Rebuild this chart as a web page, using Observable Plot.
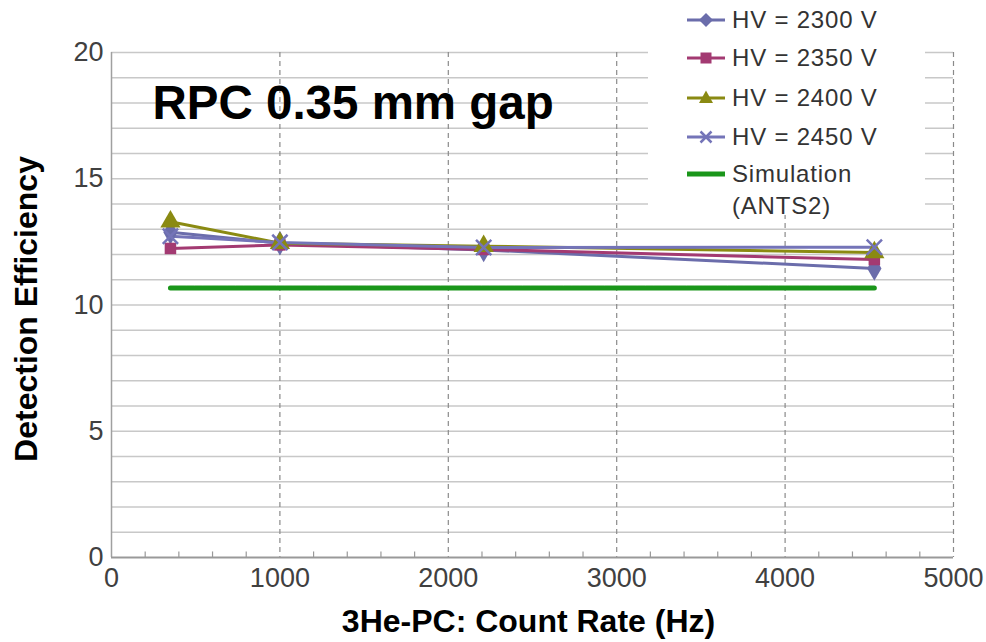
<!DOCTYPE html>
<html>
<head>
<meta charset="utf-8">
<script src="https://cdn.jsdelivr.net/npm/d3@7"></script>
<script src="https://cdn.jsdelivr.net/npm/@observablehq/plot@0.6"></script>
<style>
  html, body { margin: 0; padding: 0; background: #fff; }
  #wrap { position: relative; width: 986px; height: 642px; font-family: "Liberation Sans", Arial, sans-serif; }
  #legend { position: absolute; left: 648px; top: 0px; width: 277px; height: 215px; background: #fff; }
  .row { position: absolute; left: 39px; height: 38px; display: flex; align-items: center; font-size: 24px; letter-spacing: 0.8px; color: #333; }
  .row svg { margin-right: 7px; }
</style>
</head>
<body>
<div id="wrap"><div id="legend"></div></div>
<script>
// ---- data ----
const countRate = [350, 1000, 2210, 4530];
const seriesNames = ["HV = 2300 V", "HV = 2350 V", "HV = 2400 V", "HV = 2450 V"];
const hv2300 = [12.88, 12.45, 12.18, 11.45];
const hv2350 = [12.24, 12.38, 12.20, 11.80];
const hv2400 = [13.30, 12.45, 12.33, 12.08];
const hv2450 = [12.72, 12.48, 12.28, 12.29];
const simName = "Simulation (ANTS2)";
const simRate = [350, 4530];
const simEff = [10.67, 10.67];
const xTicks = [0, 1000, 2000, 3000, 4000, 5000];
const xMinorTicks = [200,400,600,800,1200,1400,1600,1800,2200,2400,2600,2800,3200,3400,3600,3800,4200,4400,4600,4800];
const yTicks = [0, 5, 10, 15, 20];
const yGrid = [1,2,3,4,5,6,7,8,9,10,11,12,13,14,15,16,17,18,19,20];
const xGrid = [1000, 2000, 3000, 4000, 5000];

const colors = ["#6b6dab", "#a33a72", "#8a8a12", "#7474b8"];
const symbols = ["diamond", "square", "triangle", "times"];
const radii = [7.5, 6.5, 7.5, 7];
const simColor = "#1a961a";

const allSeries = [hv2300, hv2350, hv2400, hv2450];
const rows = [];
allSeries.forEach((vals, i) => vals.forEach((v, j) => rows.push({series: seriesNames[i], i, x: countRate[j], y: v})));
const sim = simRate.map((x, j) => ({x, y: simEff[j]}));

const marks = [
  Plot.gridY(yGrid, {stroke: "#c8c8c8", strokeOpacity: 1, strokeWidth: 1.5}),
  Plot.gridX(xGrid, {stroke: "#8a8a8a", strokeOpacity: 1, strokeWidth: 1.2, strokeDasharray: "5,4"}),
  Plot.ruleX([0], {stroke: "#a0a0a0", strokeWidth: 1.5}),
  Plot.ruleY([0], {stroke: "#999", strokeWidth: 2}),
  Plot.ruleX(xMinorTicks, {y1: 0, y2: 0.22, stroke: "#999", strokeWidth: 1.2}),
  Plot.axisX({ticks: xTicks, tickFormat: d3.format("d"), tickSize: 0, tickPadding: 10, fontSize: 27, color: "#404040", label: null}),
  Plot.axisY({ticks: yTicks, tickFormat: d3.format("d"), tickSize: 0, tickPadding: 8, fontSize: 27, color: "#404040", label: null}),
  Plot.line(sim, {x: "x", y: "y", stroke: simColor, strokeWidth: 5, strokeDasharray: "7,1.2"})
];
allSeries.forEach((vals, i) => {
  const d = rows.filter(r => r.i === i);
  marks.push(Plot.line(d, {x: "x", y: "y", stroke: colors[i], strokeWidth: 3}));
});
allSeries.forEach((vals, i) => {
  const d = rows.filter(r => r.i === i);
  if (symbols[i] === "times") {
    marks.push(Plot.dot(d, {x: "x", y: "y", symbol: "times", r: radii[i], stroke: colors[i], strokeWidth: 2.5}));
  } else {
    marks.push(Plot.dot(d, {x: "x", y: "y", symbol: symbols[i], r: radii[i], fill: colors[i], stroke: "none"}));
  }
});
marks.push(
  Plot.text(["RPC 0.35 mm gap"], {frameAnchor: "top-left", dx: 41, dy: 33, lineAnchor: "top", textAnchor: "start", fontSize: 47.5, fontWeight: "bold", fill: "#000"}),
  Plot.text(["Detection Efficiency"], {frameAnchor: "left", textAnchor: "middle", dx: -85, dy: 4, rotate: -90, fontSize: 32, fontWeight: "bold", fill: "#000"}),
  Plot.text(["3He-PC: Count Rate (Hz)"], {frameAnchor: "bottom", textAnchor: "middle", dx: -4, dy: 74, fontSize: 32, fontWeight: "bold", fill: "#000"})
);

const chart = Plot.plot({
  width: 986, height: 642,
  marginLeft: 111, marginRight: 33, marginTop: 52, marginBottom: 85,
  x: {domain: [0, 5000]},
  y: {domain: [0, 20]},
  style: {fontFamily: '"Liberation Sans", Arial, sans-serif', background: "#fff", overflow: "visible"},
  marks
});
document.getElementById("wrap").prepend(chart);

// ---- legend (HTML overlay) ----
const legend = document.getElementById("legend");
const rowTops = [1, 39, 79, 118];
const sw = (i) => {
  const c = colors[i];
  let m = "";
  if (symbols[i] === "diamond") m = `<path d="M19,12 L26,19 L19,26 L12,19Z" fill="${c}"/>`;
  if (symbols[i] === "square") m = `<rect x="13.5" y="13.5" width="11" height="11" fill="${c}"/>`;
  if (symbols[i] === "triangle") m = `<path d="M19,11.5 L26,24 L12,24Z" fill="${c}"/>`;
  if (symbols[i] === "times") m = `<path d="M13.5,13.5 L24.5,24.5 M24.5,13.5 L13.5,24.5" stroke="${c}" stroke-width="2.5"/>`;
  return `<svg width="38" height="38"><line x1="0" y1="19" x2="38" y2="19" stroke="${c}" stroke-width="3"/>${m}</svg>`;
};
seriesNames.forEach((name, i) => {
  const r = document.createElement("div");
  r.className = "row";
  r.style.top = rowTops[i] + "px";
  r.innerHTML = sw(i) + `<span>${name}</span>`;
  legend.appendChild(r);
});
const simRow = document.createElement("div");
simRow.className = "row";
simRow.style.top = "155px";
simRow.style.alignItems = "flex-start";
const parts = simName.split(" ");
simRow.innerHTML = `<svg width="38" height="38"><line x1="0" y1="19" x2="38" y2="19" stroke="${simColor}" stroke-width="5"/></svg><span style="line-height:32px;margin-top:3px">${parts[0]}<br>${parts[1]}</span>`;
legend.appendChild(simRow);
</script>
</body>
</html>
